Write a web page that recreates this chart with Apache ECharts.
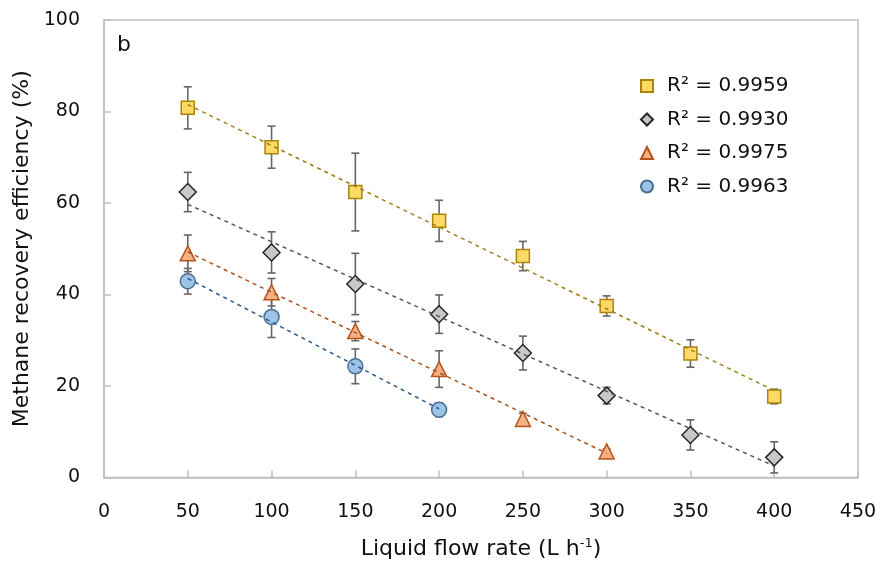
<!DOCTYPE html>
<html>
<head>
<meta charset="utf-8">
<script src="https://cdn.jsdelivr.net/npm/echarts@6/dist/echarts.min.js"></script>
<style>html,body{margin:0;padding:0;background:#fff;}#c{width:880px;height:565px;}</style>
</head>
<body>
<div id="c"></div>
<script>
// ---- data ----
var xYellow = [50, 100, 150, 200, 250, 300, 350, 400];
var yYellow = [80.8, 72.2, 62.4, 56.1, 48.4, 37.5, 27.1, 17.7];
var eYellow = [4.6, 4.6, 8.5, 4.5, 3.2, 2.2, 3.0, 1.6];

var xGray = [50, 100, 150, 200, 250, 300, 350, 400];
var yGray = [62.4, 49.2, 42.3, 35.7, 27.2, 17.9, 9.3, 4.4];
var eGray = [4.3, 4.5, 6.7, 4.2, 3.7, 1.8, 3.3, 3.4];

var xOrange = [50, 100, 150, 200, 250, 300];
var yOrange = [49.0, 40.5, 32.0, 23.7, 12.8, 5.7];
var eOrange = [4.0, 3.0, 2.1, 4.0, 1.2, 0.5];

var xBlue = [50, 100, 150, 200];
var yBlue = [42.9, 35.1, 24.3, 14.8];
var eBlue = [2.8, 4.5, 3.8, 1.5];

// trend line endpoints [x, y]
var trendYellow = [[50, 81.5], [400, 19.0]];
var trendGray = [[50, 59.7], [400, 2.5]];
var trendOrange = [[50, 49.3], [300, 5.3]];
var trendBlue = [[50, 43.5], [200, 15.0]];

var legendLabels = ['R² = 0.9959', 'R² = 0.9930', 'R² = 0.9975', 'R² = 0.9963'];
var xTicks = [0, 50, 100, 150, 200, 250, 300, 350, 400, 450];
var yTicks = [0, 20, 40, 60, 80, 100];

// ---- chart ----
var FONT = "'DejaVu Sans', 'Open Sans', sans-serif";
var TXT = '#111111';
var AX = '#BFBFBF';

function pts(xs, ys) { return xs.map(function (x, i) { return [x, ys[i]]; }); }
function errs(xs, ys, es) { return xs.map(function (x, i) { return [x, ys[i] - es[i], ys[i] + es[i]]; }); }

function errRender(params, api) {
  var x = api.value(0), lo = api.value(1), hi = api.value(2);
  var p1 = api.coord([x, hi]), p2 = api.coord([x, lo]);
  var w = 4;
  var st = { stroke: '#666666', lineWidth: 1.6 };
  return {
    type: 'group',
    children: [
      { type: 'line', shape: { x1: p1[0], y1: p1[1], x2: p2[0], y2: p2[1] }, style: st },
      { type: 'line', shape: { x1: p1[0] - w, y1: p1[1], x2: p1[0] + w, y2: p1[1] }, style: st },
      { type: 'line', shape: { x1: p2[0] - w, y1: p2[1], x2: p2[0] + w, y2: p2[1] }, style: st }
    ]
  };
}

var groups = [
  { name: legendLabels[0], xs: xYellow, ys: yYellow, es: eYellow, trend: trendYellow, symbol: 'rect', size: 13, fill: '#FFD966', border: '#A8860A', trendColor: '#9E7F14' },
  { name: legendLabels[1], xs: xGray, ys: yGray, es: eGray, trend: trendGray, symbol: 'diamond', size: 17, fill: '#C8C8C8', border: '#262626', trendColor: '#555555' },
  { name: legendLabels[2], xs: xOrange, ys: yOrange, es: eOrange, trend: trendOrange, symbol: 'triangle', size: 15, fill: '#F4B183', border: '#B5541A', trendColor: '#A9511C' },
  { name: legendLabels[3], xs: xBlue, ys: yBlue, es: eBlue, trend: trendBlue, symbol: 'circle', size: 15, fill: '#9DC3E6', border: '#4A6E91', trendColor: '#2B5A88' }
];

var series = [];
groups.forEach(function (g) {
  series.push({
    type: 'custom', name: g.name + '_err', renderItem: errRender,
    data: errs(g.xs, g.ys, g.es), encode: { x: 0, y: [1, 2] }, z: 1, silent: true
  });
});
groups.forEach(function (g) {
  series.push({
    type: 'scatter', name: g.name, data: pts(g.xs, g.ys), symbol: g.symbol, symbolSize: g.size,
    itemStyle: { color: g.fill, borderColor: g.border, borderWidth: 1.5, opacity: 1 }, z: 2
  });
});
groups.forEach(function (g) {
  series.push({
    type: 'line', name: g.name + '_trend', data: g.trend, showSymbol: false, symbol: 'none',
    lineStyle: { color: g.trendColor, width: 1.5, type: [4, 4] }, z: 3, silent: true
  });
});

var chart = echarts.init(document.getElementById('c'), null, { renderer: 'canvas' });
chart.setOption({
  animation: false,
  backgroundColor: '#fff',
  grid: { left: 104, right: 22, top: 20, bottom: 86, show: true, borderColor: AX, borderWidth: 1.5 },
  xAxis: {
    type: 'value', min: xTicks[0], max: xTicks[xTicks.length - 1], interval: 50,
    name: 'Liquid flow rate (L h{sup|-1})', nameLocation: 'middle', nameGap: 60,
    nameTextStyle: { fontFamily: FONT, fontSize: 22, color: TXT, rich: { sup: { fontFamily: FONT, fontSize: 13, color: TXT, verticalAlign: 'top', padding: [0, 0, 10, 0] } } },
    axisLine: { show: true, lineStyle: { color: AX, width: 1.5 } },
    axisTick: { show: true, inside: true, length: 7, lineStyle: { color: AX, width: 1.5 } },
    axisLabel: { fontFamily: FONT, fontSize: 19, color: TXT, margin: 25 },
    splitLine: { show: false }
  },
  yAxis: {
    type: 'value', min: yTicks[0], max: yTicks[yTicks.length - 1], interval: 20,
    name: 'Methane recovery efficiency (%)', nameLocation: 'middle', nameGap: 70,
    nameTextStyle: { fontFamily: FONT, fontSize: 22, color: TXT },
    axisLine: { show: true, lineStyle: { color: AX, width: 1.5 } },
    axisTick: { show: true, inside: true, length: 7, lineStyle: { color: AX, width: 1.5 } },
    axisLabel: { fontFamily: FONT, fontSize: 19, color: TXT, margin: 24 },
    splitLine: { show: false }
  },
  legend: {
    data: legendLabels, orient: 'vertical', left: 635, top: 70,
    itemWidth: 12, itemHeight: 12, itemGap: 11.5,
    textStyle: { fontFamily: FONT, fontSize: 20, color: TXT, lineHeight: 22, padding: [0, 0, 0, 9] },
    selectedMode: false
  },
  graphic: [{ type: 'text', left: 117, top: 34, style: { text: 'b', font: "22px 'DejaVu Sans', sans-serif", fill: TXT } }],
  series: series
});
</script>
</body>
</html>
